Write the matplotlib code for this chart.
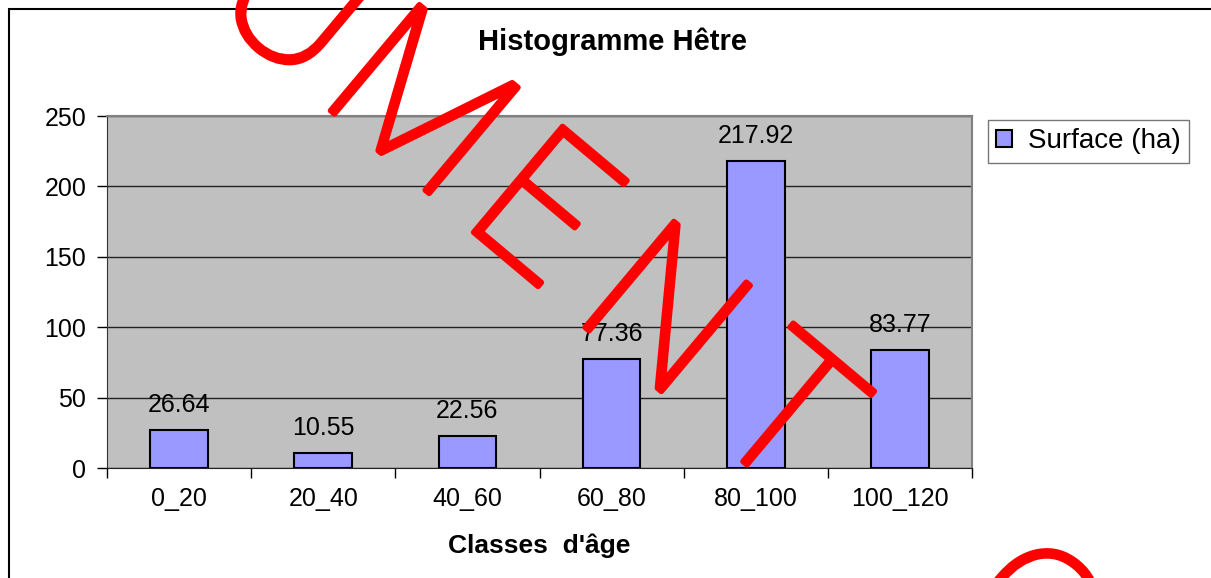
# Beech (Hêtre) age-class histogram: surface (ha) per age class.

import matplotlib
matplotlib.use("Agg")
import matplotlib.pyplot as plt
import matplotlib.patheffects as pe
from matplotlib.patches import Rectangle

CLASSES = ["0_20", "20_40", "40_60", "60_80", "80_100", "100_120"]
SURFACE = [26.64, 10.55, 22.56, 77.36, 217.92, 83.77]
Y_TICKS = [0, 50, 100, 150, 200, 250]

BAR_COLOR = "#9999FF"
PLOT_BG = "#C0C0C0"
W, H = 1211, 578

# watermark: letters laid along a slanted line (pixel positions of the picture)
WATERMARK = "DOCUMENT O"
WM_LAST_T = (792, 407)      # centre of the "T"
WM_STEP = (121.7, 103.7)    # advance from one letter to the next


def main():
    plt.rcParams["font.family"] = ["Liberation Sans", "DejaVu Sans"]
    fig = plt.figure(figsize=(W / 100, H / 100), dpi=100)
    ax = fig.add_axes([107 / W, 1 - 468 / H, (972 - 107) / W, (468 - 116) / H])
    ax.set_facecolor(PLOT_BG)

    x = list(range(len(CLASSES)))
    bars = ax.bar(x, SURFACE, width=0.4, color=BAR_COLOR, edgecolor="black",
                  linewidth=1.5, label="Surface (ha)", zorder=3)
    for rect, val in zip(bars, SURFACE):
        ax.annotate(f"{val:.2f}", (rect.get_x() + rect.get_width() / 2, val),
                    xytext=(0, 25), textcoords="offset pixels",
                    ha="center", va="center", fontsize=18, zorder=4)

    ax.set_xlim(-0.5, len(CLASSES) - 0.5)
    ax.set_ylim(0, 250)
    ax.set_yticks(Y_TICKS)
    ax.yaxis.grid(True, color="#222222", linewidth=1)
    ax.set_axisbelow(True)
    ax.tick_params(axis="y", labelsize=18, length=7, width=1, direction="out", pad=8)

    ax.set_xticks([i - 0.5 for i in range(len(CLASSES) + 1)])
    ax.set_xticklabels([])
    ax.set_xticks(x, minor=True)
    ax.set_xticklabels(CLASSES, minor=True, fontsize=18)
    ax.tick_params(axis="x", which="major", length=7, width=1, direction="out")
    ax.tick_params(axis="x", which="minor", length=0, pad=14)

    for side in ("top", "right"):
        ax.spines[side].set_color("#808080")
        ax.spines[side].set_linewidth(1.5)
    ax.spines["left"].set_color("#333333")
    ax.spines["bottom"].set_color("#222222")

    ax.set_xlabel("Classes  d'âge", fontsize=19, fontweight="bold", labelpad=16)
    fig.text(613 / W, 1 - 42 / H, "Histogramme Hêtre", ha="center", va="center",
             fontsize=21, fontweight="bold")

    fig.legend(loc="upper left", bbox_to_anchor=(988 / W, 1 - 120 / H),
               borderaxespad=0, fontsize=20, frameon=True, fancybox=False,
               edgecolor="#555555", handlelength=0.55, handleheight=0.55,
               handletextpad=0.6, borderpad=0.3)

    # outer chart border
    fig.patches.append(Rectangle((9 / W, -0.1), 1.2, 1 - 9 / H + 0.1,
                                 transform=fig.transFigure, fill=False,
                                 edgecolor="black", linewidth=1.5))

    # red watermark over the chart
    t_idx = WATERMARK.index("T")
    for i, ch in enumerate(WATERMARK):
        if ch == " ":
            continue
        px = WM_LAST_T[0] + (i - t_idx) * WM_STEP[0]
        py = WM_LAST_T[1] + (i - t_idx) * WM_STEP[1]
        fig.text(px / W, 1 - py / H, ch, color="red", fontsize=140,
                 family="Roboto", fontweight=100, rotation=-40,
                 rotation_mode="anchor", ha="center", va="center_baseline",
                 zorder=10,
                 path_effects=[pe.withStroke(linewidth=4, foreground="red",
                                             capstyle="round", joinstyle="round")])

    fig.savefig("out.png", dpi=100)


if __name__ == "__main__":
    main()
